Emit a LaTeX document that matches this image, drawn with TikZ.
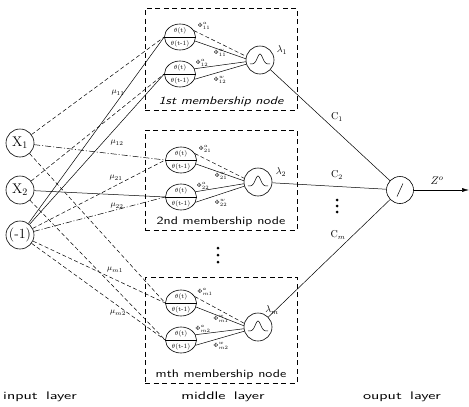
\documentclass[tikz,border=0pt]{standalone}
\usepackage{graphicx}
\usetikzlibrary{shapes.geometric,arrows.meta,calc}
\begin{document}
\begin{tikzpicture}[x=1pt,y=-1pt,
  every node/.style={inner sep=0pt},
  inp/.style={circle,draw,line width=0.6pt,minimum size=28pt,font=\fontsize{14}{16}\selectfont},
  thnode/.style={ellipse,draw,line width=0.6pt,minimum width=31pt,minimum height=26pt},
  gnode/.style={circle,draw,line width=0.6pt,minimum size=28pt},
  outnode/.style={circle,draw,line width=0.6pt,minimum size=27pt},
  mbox/.style={draw,dash pattern=on 5pt off 3.5pt,line width=0.7pt,minimum width=152pt},
  conn/.style={line width=0.5pt},
  dsh/.style={conn,dash pattern=on 4pt off 2.5pt},
  dshd/.style={conn,dash pattern=on 6pt off 2pt on 1pt off 2pt},
  thtxt/.style={font=\fontsize{6.5}{6.5}\selectfont},
  phitxt/.style={font=\fontsize{6.5}{6.5}\selectfont},
  mutxt/.style={font=\fontsize{8}{8}\selectfont},
  lamtxt/.style={font=\fontsize{10}{10}\selectfont},
  ctxt/.style={font=\fontsize{10}{10}\selectfont},
  laytxt/.style={font=\fontsize{11}{12}\sffamily\selectfont},
  memtxt/.style={font=\fontsize{11}{12}\sffamily\selectfont},
  dotn/.style={circle,fill,minimum size=3pt}
]
\useasboundingbox (0,0) rectangle (469,407);

% boxes
\node[mbox,minimum height=102pt] (b1) at (221,59) {};
\node[mbox,minimum height=100pt] (b2) at (221,180) {};
\node[mbox,minimum height=106pt] (b3) at (221,330) {};

% input nodes
\node[inp] (x1) at (20,143) {X$_1$};
\node[inp] (x2) at (20,190) {X$_2$};
\node[inp] (bias) at (20,235) {(-1)};

% theta nodes
\node[thnode] (u1) at (180,37) {};
\node[thnode] (l1) at (180,74) {};
\node[thnode] (u2) at (181,160) {};
\node[thnode] (l2) at (181,197) {};
\node[thnode] (u3) at (181,303) {};
\node[thnode] (l3) at (181,340) {};

\foreach \n in {u1,l1,u2,l2,u3,l3}{
  \draw[conn] (\n.west) -- (\n.east);
  \node[thtxt] (\n t) at ($(\n)+(0,-6)$) {$\theta$(t)};
  \node[thtxt] (\n b) at ($(\n)+(0,6.5)$) {$\theta$(t-1)};
}

% gaussian nodes
\node[gnode] (g1) at (260,60) {};
\node[gnode] (g2) at (258,182) {};
\node[gnode] (g3) at (258,327) {};
\foreach \g in {g1,g2,g3}{
  \begin{scope}[shift={(\g)}]
    \draw[conn] plot[domain=-10:10,samples=41,smooth] (\x,{4-10*exp(-1*(\x)*(\x)/14)});
  \end{scope}
}

% theta -> gaussian
\foreach \u/\l/\g in {u1/l1/g1,u2/l2/g2,u3/l3/g3}{
  \draw[dsh] (\u.25) -- (\g.165);
  \draw[conn] (\u.-15) -- (\g.175);
  \draw[conn] (\l.20) -- (\g.187);
  \draw[conn] (\l.-20) -- (\g.197);
}

% phi labels
\foreach \u/\l/\s in {u1/l1/1,u2/l2/2,u3/l3/m}{
  \node[phitxt] (\u pa) at ($(\u)+(24,-11)$) {$\Phi^{a}_{\s1}$};
  \node[phitxt] (\u pw) at ($(\u)+(40,16)$) {$\Phi^{w}_{\s1}$};
  \node[phitxt] (\l pa) at ($(\l)+(22,-11)$) {$\Phi^{a}_{\s2}$};
  \node[phitxt] (\l pw) at ($(\l)+(40,6)$) {$\Phi^{w}_{\s2}$};
}

% lambda labels
\node[lamtxt] (lam1) at (282,50) {$\lambda_1$};
\node[lamtxt] (lam2) at (281,172) {$\lambda_2$};
\node[lamtxt] (lam3) at (272,310) {$\lambda_m$};

% membership texts
\node[memtxt] (m1) at (221,102) {\scalebox{1.3}[1]{\itshape 1st membership node}};
\node[memtxt] (m2) at (221,222) {\scalebox{1.3}[1]{2nd membership node}};
\node[memtxt] (m3) at (221,375) {\scalebox{1.3}[1]{mth membership node}};

% input -> theta
\draw[dsh] (x1) -- (u1.west);
\draw[conn] (bias) -- (u1.west);
\draw[dsh] (x2) -- (l1.west);
\draw[conn] (bias) -- (l1.west);
\draw[dshd] (x1) -- (u2.west);
\draw[dsh] (bias) -- (u2.west);
\draw[conn] (x2) -- (l2.west);
\draw[dshd] (bias) -- (l2.west);
\draw[dsh] (x1) -- (u3.west);
\draw[dsh] (bias) -- (u3.west);
\draw[dsh] (x2) -- (l3.west);
\draw[dsh] (bias) -- (l3.west);

% mu labels
\node[mutxt] (mu11) at (118,93) {$\mu_{11}$};
\node[mutxt] (mu12) at (117,143) {$\mu_{12}$};
\node[mutxt] (mu21) at (116,178) {$\mu_{21}$};
\node[mutxt] (mu22) at (117,206) {$\mu_{22}$};
\node[mutxt] (mum1) at (115,270) {$\mu_{m1}$};
\node[mutxt] (mum2) at (118,313) {$\mu_{m2}$};

% middle dots
\node[dotn] (md1) at (218,248) {};
\node[dotn] (md2) at (218,255) {};
\node[dotn] (md3) at (218,262) {};

% output
\node[outnode] (out) at (400,190) {};
\draw[conn] ($(out)+(-3,6.5)$) -- ($(out)+(3,-6.5)$);
\draw[conn] (g1) -- (out);
\draw[conn] (g2) -- (out);
\draw[conn] (g3) -- (out);
\coordinate (zend) at (469,190);
\draw[conn,-{Latex[length=7pt,width=4pt]}] (out) -- (zend);
\node[font=\fontsize{11}{11}\selectfont] (zo) at (437,181) {$Z^{o}$};

\node[ctxt] (c1) at (337,117) {C$_1$};
\node[ctxt] (c2) at (337,175) {C$_2$};
\node[ctxt] (cm) at (338,235) {C$_m$};
\node[dotn] (rd1) at (337,200) {};
\node[dotn] (rd2) at (337,206) {};
\node[dotn] (rd3) at (337,212) {};

% layer labels
\node[laytxt] (il) at (40,397) {\scalebox{1.5}[1]{input\hspace{2pt} layer}};
\node[laytxt] (ml) at (223,397) {\scalebox{1.5}[1]{middle\hspace{2pt} layer}};
\node[laytxt] (ol) at (402,397) {\scalebox{1.5}[1]{ouput\hspace{2pt} layer}};
\end{tikzpicture}
\end{document}
